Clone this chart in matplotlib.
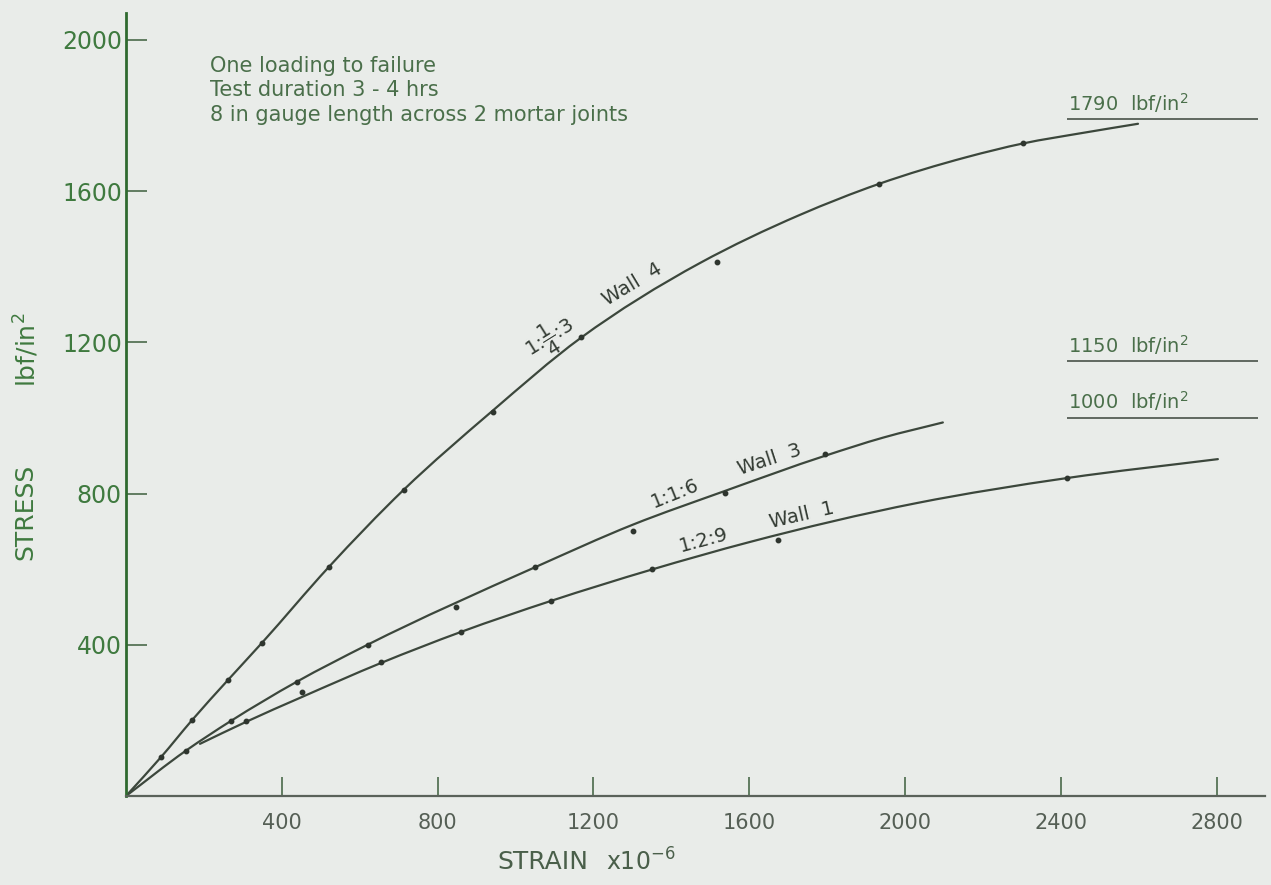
import matplotlib
matplotlib.use("Agg")
import matplotlib.pyplot as plt
from matplotlib.path import Path
from matplotlib.patches import PathPatch
import math

# ---- data ----
wall4_curve_x = [0, 90, 169, 262, 349, 521, 714, 940, 1168, 1474, 1730, 1933, 2159, 2303, 2457, 2598]
wall4_curve_y = [0, 103, 200, 307, 405, 606, 811, 1018, 1212, 1410, 1537, 1619, 1690, 1726, 1754, 1778]
wall4_pts_x = [89, 169, 261, 350, 521, 714, 943, 1167, 1518, 1934, 2304]
wall4_pts_y = [102, 201, 307, 404, 605, 810, 1015, 1213, 1413, 1618, 1727]

wall3_curve_x = [0, 154, 270, 438, 620, 1050, 1302, 1538, 1795, 1944, 2097]
wall3_curve_y = [0, 120, 199, 302, 400, 605, 718, 807, 900, 948, 988]
wall3_pts_x = [154, 270, 438, 620, 847, 1050, 1302, 1538, 1795]
wall3_pts_y = [120, 199, 302, 399, 501, 605, 701, 801, 905]

wall1_curve_x = [190, 308, 452, 655, 860, 1091, 1350, 1602, 2031, 2416, 2803]
wall1_curve_y = [138, 196, 262, 352, 434, 516, 599, 672, 775, 841, 891]
wall1_pts_x = [308, 453, 655, 860, 1090, 1351, 1675, 2415]
wall1_pts_y = [199, 276, 354, 435, 517, 600, 677, 840]

failure_stress = [1790, 1150, 1000]
failure_labels = ["1790  lbf/in$^{2}$", "1150  lbf/in$^{2}$", "1000  lbf/in$^{2}$"]

x_ticks = [400, 800, 1200, 1600, 2000, 2400, 2800]
y_ticks = [400, 800, 1200, 1600, 2000]

notes = ["One loading to failure", "Test duration 3 - 4 hrs",
         "8 in gauge length across 2 mortar joints"]

# ---- style ----
BG = "#e9ece9"
INK = "#3c473c"
GREEN = "#3f7a3f"
TXT = "#4a6f4a"


def smooth_path(xs, ys):
    """Chord-length Catmull-Rom curve through the read points (cubic Bezier)."""
    pts = list(zip(xs, ys))
    n = len(pts)
    h = [math.hypot(pts[i + 1][0] - pts[i][0], pts[i + 1][1] - pts[i][1]) for i in range(n - 1)]
    tans = []
    for i in range(n):
        if i == 0:
            t = ((pts[1][0] - pts[0][0]) / h[0], (pts[1][1] - pts[0][1]) / h[0])
        elif i == n - 1:
            t = ((pts[-1][0] - pts[-2][0]) / h[-1], (pts[-1][1] - pts[-2][1]) / h[-1])
        else:
            h0, h1 = h[i - 1], h[i]
            d0 = ((pts[i][0] - pts[i - 1][0]) / h0, (pts[i][1] - pts[i - 1][1]) / h0)
            d1 = ((pts[i + 1][0] - pts[i][0]) / h1, (pts[i + 1][1] - pts[i][1]) / h1)
            t = ((d0[0] * h1 + d1[0] * h0) / (h0 + h1), (d0[1] * h1 + d1[1] * h0) / (h0 + h1))
        tans.append(t)
    verts = [pts[0]]
    codes = [Path.MOVETO]
    for i in range(n - 1):
        p1, p2 = pts[i], pts[i + 1]
        c1 = (p1[0] + tans[i][0] * h[i] / 3, p1[1] + tans[i][1] * h[i] / 3)
        c2 = (p2[0] - tans[i + 1][0] * h[i] / 3, p2[1] - tans[i + 1][1] * h[i] / 3)
        verts += [c1, c2, p2]
        codes += [Path.CURVE4] * 3
    return Path(verts, codes)


fig = plt.figure(figsize=(12.71, 8.85), dpi=100, facecolor=BG)
ax = fig.add_axes([126/1271, 89/885, 1139/1271, 783/885], facecolor=BG)
ax.set_xlim(0, 2924)
ax.set_ylim(0, 2071)

for s in ["top", "right"]:
    ax.spines[s].set_visible(False)
ax.spines["left"].set_color("#2f6a2f")
ax.spines["left"].set_linewidth(2.0)
ax.spines["bottom"].set_color("#5a625a")
ax.spines["bottom"].set_linewidth(1.6)

ax.set_xticks(x_ticks)
ax.set_xticklabels([str(v) for v in x_ticks])
ax.set_yticks(y_ticks)
ax.set_yticklabels([str(v) for v in y_ticks])
ax.tick_params(axis="x", direction="in", length=14, width=1.2, color="#4a6a4a",
               labelsize=15, labelcolor="#555f55", pad=12)
ax.tick_params(axis="y", direction="in", length=15, width=1.2, color="#4a6a4a",
               labelsize=17, labelcolor=GREEN, pad=3)

lw = 1.6
for cx, cy in [(wall4_curve_x, wall4_curve_y), (wall3_curve_x, wall3_curve_y),
               (wall1_curve_x, wall1_curve_y)]:
    ax.add_patch(PathPatch(smooth_path(cx, cy), fill=False, edgecolor=INK, lw=lw,
                           capstyle="round", joinstyle="round"))
for px, py in [(wall4_pts_x, wall4_pts_y), (wall3_pts_x, wall3_pts_y), (wall1_pts_x, wall1_pts_y)]:
    ax.plot(px, py, linestyle="none", marker="o", ms=3.2, color="#2e352e")

# failure stress lines
ax.hlines(failure_stress, 2415, 2905, color="#555e55", lw=1.3)
for yv, lab in zip(failure_stress, failure_labels):
    ax.text(2418, yv + 12, lab, fontsize=14, color=TXT, ha="left", va="bottom")

# curve labels
lab_kw = dict(fontsize=14, color="#333b33", ha="center", va="center")
ax.text(1089, 1209, r"1:$\dfrac{1}{4}$:3", rotation=32, **lab_kw)
ax.text(1299, 1352, "Wall  4", rotation=31, **lab_kw)
ax.text(1410, 799, "1:1:6", rotation=22, **lab_kw)
ax.text(1651, 889, "Wall  3", rotation=18, **lab_kw)
ax.text(1484, 677, "1:2:9", rotation=15, **lab_kw)
ax.text(1736, 743, "Wall  1", rotation=13, **lab_kw)

# notes
for i, t in enumerate(notes):
    fig.text(210/1271, 1 - (66 + 24.5*i)/885, t, fontsize=15, color=TXT,
             ha="left", va="center")

# axis labels
fig.text(25/1271, 1 - 512/885, "STRESS", rotation=90, fontsize=18, color=GREEN,
         ha="center", va="center")
fig.text(27/1271, 1 - 350/885, "lbf/in$^{2}$", rotation=90, fontsize=18, color=GREEN,
         ha="center", va="center")
fig.text(497/1271, 1 - 862/885, "STRAIN", fontsize=18, color="#4a5f4a",
         ha="left", va="center")
fig.text(606/1271, 1 - 862/885, "x10$^{-6}$", fontsize=17, color="#4a5f4a",
         ha="left", va="center")

fig.savefig("out.png", dpi=100, facecolor=BG)
